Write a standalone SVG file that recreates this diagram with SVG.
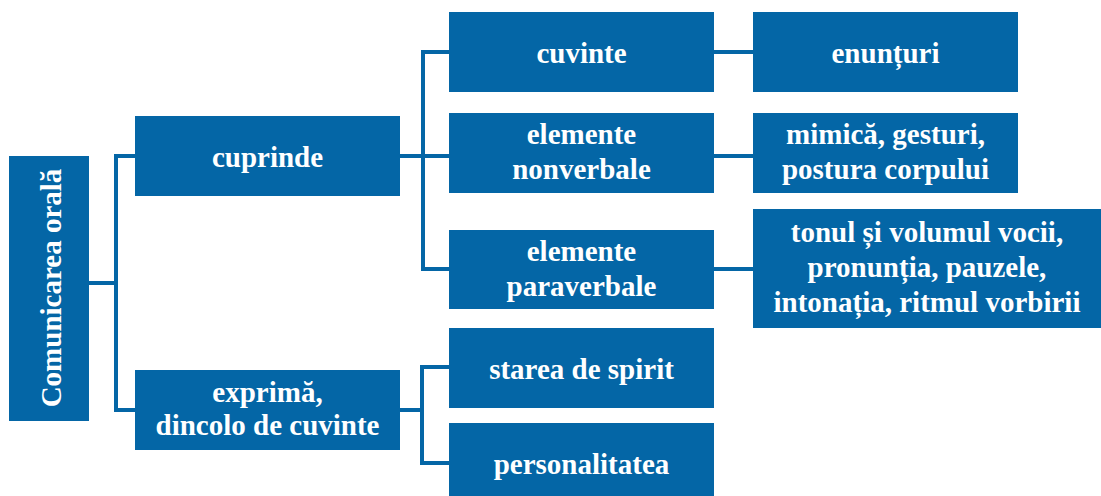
<svg xmlns="http://www.w3.org/2000/svg" width="1101" height="496" viewBox="0 0 1101 496">
<style>
.box{fill:#0466a6}
.t{font-weight:bold;font-size:29px;fill:#ffffff;text-anchor:middle}
.c{fill:none;stroke:#0466a6;stroke-width:4}
</style>
<rect width="1101" height="496" fill="#ffffff"/>
<g id="connectors">
<path class="c" d="M89 283H116M135 156H116V410H135"/>
<path class="c" d="M400 156H449M449 52H423V269H449"/>
<path class="c" d="M714 52H753M714 156H753M714 269H753"/>
<path class="c" d="M400 410H422M449 367H422V463H449"/>
</g>
<g id="nodes" font-family="Liberation Serif, Times New Roman, serif">
<g id="n-comunicarea"><rect class="box" x="9" y="156" width="80" height="265"/><text class="t" transform="translate(61,288) rotate(-90)" x="0" y="0">Comunicarea orală</text></g>
<g id="n-cuprinde"><rect class="box" x="135" y="116" width="265" height="80"/><text class="t" x="267.5" y="167">cuprinde</text></g>
<g id="n-exprima"><rect class="box" x="135" y="370" width="265" height="80"/><text class="t" x="267.5" y="402">exprimă,</text><text class="t" x="267.5" y="435">dincolo de cuvinte</text></g>
<g id="n-cuvinte"><rect class="box" x="449" y="12" width="265" height="80"/><text class="t" x="581.5" y="63">cuvinte</text></g>
<g id="n-nonverbale"><rect class="box" x="449" y="113" width="265" height="80"/><text class="t" x="581.5" y="144">elemente</text><text class="t" x="581.5" y="179">nonverbale</text></g>
<g id="n-paraverbale"><rect class="box" x="449" y="230" width="265" height="79"/><text class="t" x="581.5" y="261">elemente</text><text class="t" x="581.5" y="296">paraverbale</text></g>
<g id="n-starea"><rect class="box" x="449" y="328" width="265" height="80"/><text class="t" x="581.5" y="379">starea de spirit</text></g>
<g id="n-personalitatea"><rect class="box" x="449" y="423" width="265" height="80"/><text class="t" x="581.5" y="474">personalitatea</text></g>
<g id="n-enunturi"><rect class="box" x="753" y="12" width="265" height="80"/><text class="t" x="885.5" y="63">enunțuri</text></g>
<g id="n-mimica"><rect class="box" x="753" y="113" width="265" height="80"/><text class="t" x="885.5" y="144">mimică, gesturi,</text><text class="t" x="885.5" y="179">postura corpului</text></g>
<g id="n-tonul"><rect class="box" x="753" y="209" width="348" height="119"/><text class="t" x="927" y="242">tonul și volumul vocii,</text><text class="t" x="927" y="277">pronunția, pauzele,</text><text class="t" x="927" y="312">intonația, ritmul vorbirii</text></g>
</g>
</svg>
